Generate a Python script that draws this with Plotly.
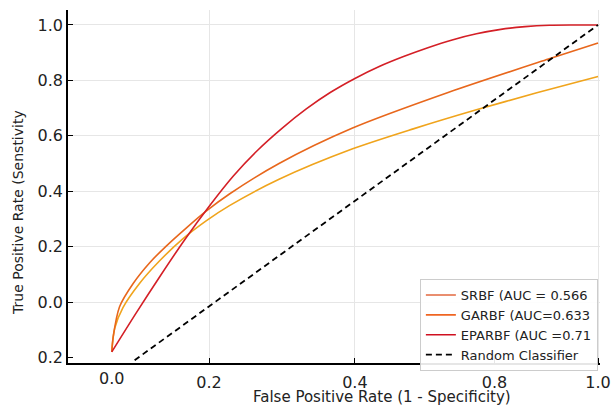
import plotly.graph_objects as go

# ---- data ----
eparbf_x = [0, 0.05, 0.1, 0.15, 0.2, 0.25, 0.3, 0.35, 0.4, 0.45, 0.5, 0.55, 0.6, 0.65, 0.7, 0.75, 0.8, 0.85, 0.9, 0.95, 1.0]
eparbf_y = [-0.18, -0.04, 0.095, 0.225, 0.345, 0.455, 0.548, 0.627, 0.697, 0.757, 0.807, 0.85, 0.886, 0.918, 0.946, 0.968, 0.984, 0.994, 0.999, 1.0, 1.0]

garbf_x = [0, 0.003, 0.016, 0.044, 0.078, 0.112, 0.153, 0.194, 0.242, 0.344, 0.494, 0.693, 0.898, 1.0]
garbf_y = [-0.18, -0.125, -0.017, 0.067, 0.142, 0.202, 0.267, 0.328, 0.39, 0.50, 0.627, 0.757, 0.877, 0.935]

srbf_x = [0, 0.006, 0.023, 0.057, 0.098, 0.146, 0.194, 0.242, 0.344, 0.494, 0.62, 0.748, 0.874, 1.0]
srbf_y = [-0.18, -0.095, -0.02, 0.067, 0.148, 0.228, 0.293, 0.348, 0.443, 0.552, 0.625, 0.693, 0.755, 0.814]

random_x = [0.047, 1.0]
random_y = [-0.21, 1.0]

legend_names = ["SRBF (AUC = 0.566", "GARBF (AUC=0.633", "EPARBF (AUC =0.71", "Random Classifier"]

x_tickvals = [0.2, 0.5, 0.787, 1.0]
x_ticktext = ["0.2", "0.4", "0.8", "1.0"]
x_gridvals = [0.2, 0.5, 1.0]
y_tickvals = [-0.2, 0.0, 0.2, 0.4, 0.6, 0.8, 1.0]
y_ticktext = ["0.2", "0.0", "0.2", "0.4", "0.6", "0.8", "1.0"]
y_gridvals = [0.0, 0.2, 0.4, 0.6, 0.8, 1.0]

# ---- styles ----
curve_colors = {"SRBF": "#f0a41c", "GARBF": "#e8671c", "EPARBF": "#d41f26"}
legend_colors = ["#e2683f", "#ef6522", "#cf1020"]
FONT = "DejaVu Sans"
XR = [-0.09, 1.004]
YR = [-0.22, 1.054]

fig = go.Figure()

# empty trace for the grid overlay axes
fig.add_trace(go.Scatter(x=[], y=[], xaxis="x2", yaxis="y2", showlegend=False, hoverinfo="skip"))

line_kw = dict(width=1.6, shape="spline", smoothing=0.8)
fig.add_trace(go.Scatter(x=srbf_x, y=srbf_y, mode="lines", line=dict(color=curve_colors["SRBF"], **line_kw), showlegend=False))
fig.add_trace(go.Scatter(x=garbf_x, y=garbf_y, mode="lines", line=dict(color=curve_colors["GARBF"], **line_kw), showlegend=False))
fig.add_trace(go.Scatter(x=eparbf_x, y=eparbf_y, mode="lines", line=dict(color=curve_colors["EPARBF"], **line_kw), showlegend=False))

# legend entries
for name, col in zip(legend_names[:3], legend_colors):
    fig.add_trace(go.Scatter(x=[None], y=[None], mode="lines", name=name, line=dict(color=col, width=1.6)))

fig.add_trace(go.Scatter(x=random_x, y=random_y, mode="lines", name=legend_names[3],
                         line=dict(color="black", width=1.8, dash="6px,4px")))

fig.update_layout(
    width=613, height=405,
    margin=dict(l=68, r=13, t=10, b=42, autoexpand=False),
    paper_bgcolor="white", plot_bgcolor="white",
    font=dict(family=FONT, size=16, color="#222"),
    xaxis=dict(range=XR, tickvals=x_tickvals, ticktext=x_ticktext, ticks="inside", ticklen=5,
               tickcolor="black", showgrid=False, zeroline=False, showline=True, linecolor="black",
               linewidth=1.5, tickfont=dict(size=16, family=FONT, color="#222"), ticklabelstandoff=4,
               automargin=False),
    yaxis=dict(range=YR, tickvals=y_tickvals, ticktext=y_ticktext, ticks="inside", ticklen=5,
               tickcolor="black", showgrid=False, zeroline=False, showline=True, linecolor="black",
               linewidth=1.5, tickfont=dict(size=16, family=FONT, color="#222"), automargin=False),
    xaxis2=dict(range=XR, overlaying="x", tickvals=x_gridvals, showticklabels=False, ticks="",
                showgrid=True, gridcolor="#e6e6e6", gridwidth=1, zeroline=False, showline=False,
                automargin=False),
    yaxis2=dict(range=YR, overlaying="y", tickvals=y_gridvals, showticklabels=False, ticks="",
                showgrid=True, gridcolor="#e6e6e6", gridwidth=1, zeroline=False, showline=False,
                automargin=False),
    legend=dict(x=0.996, y=0.238, xanchor="right", yanchor="top", bgcolor="rgba(255,255,255,0.9)",
                bordercolor="#cccccc", borderwidth=1, font=dict(size=13, family=FONT, color="#222"),
                tracegroupgap=0),
    showlegend=True,
)

fig.add_annotation(x=0, y=0, xref="x", yref="paper", text="0.0", showarrow=False,
                   yanchor="top", yshift=-4, font=dict(size=16, family=FONT, color="#222"))
fig.add_annotation(x=-0.094, y=0.428, xref="paper", yref="paper", text="True Positive Rate (Senstivity",
                   showarrow=False, textangle=-90, xanchor="center", yanchor="middle",
                   font=dict(size=14, family=FONT, color="#222"))
fig.add_annotation(x=0.59, y=-0.096, xref="paper", yref="paper", text="False Positive Rate (1 - Specificity)",
                   showarrow=False, xanchor="center", yanchor="middle",
                   font=dict(size=15, family=FONT, color="#222"))

fig.write_html("out.html", config={"displayModeBar": False},
               post_script="document.body.style.margin='0';document.body.style.overflow='hidden';")
